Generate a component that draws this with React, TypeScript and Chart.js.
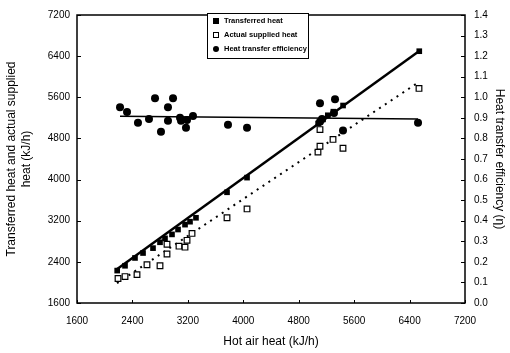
import React, { useEffect, useRef } from 'react';
import { Chart, registerables } from 'chart.js';
Chart.register(...registerables);

// Transferred heat (filled squares)
const hotAirTransferred = [2180, 2293, 2437, 2553, 2697, 2798, 2870, 2971, 3058, 3159, 3231, 3317, 3765, 4054, 5080, 5150, 5220, 5300, 5440, 6540];
const transferredHeat = [2230, 2324, 2476, 2572, 2667, 2781, 2857, 2934, 3029, 3124, 3181, 3257, 3753, 4038, 5090, 5170, 5250, 5320, 5440, 6496];

// Actual supplied heat (open squares)
const hotAirSupplied = [2192, 2293, 2466, 2610, 2798, 2899, 2899, 3072, 3159, 3188, 3260, 3765, 4054, 5078, 5107, 5107, 5295, 5439, 6536];
const suppliedHeat = [2076, 2114, 2152, 2343, 2324, 2553, 2743, 2705, 2686, 2819, 2953, 3257, 3429, 4534, 4648, 4972, 4781, 4610, 5772];

// Heat transfer efficiency (filled circles)
const hotAirEfficiency = [2221, 2322, 2480, 2639, 2726, 2812, 2913, 2913, 2986, 3087, 3101, 3173, 3188, 3274, 3779, 4054, 5107, 5324, 5309, 5136, 5107, 5439, 6522];
const efficiency = [0.952, 0.929, 0.876, 0.895, 0.995, 0.833, 0.952, 0.886, 0.995, 0.900, 0.886, 0.852, 0.890, 0.909, 0.867, 0.852, 0.971, 0.990, 0.924, 0.895, 0.881, 0.838, 0.876];

// Fitted lines
const fitTransferredX = [2180, 6540];
const fitTransferredY = [2260, 6500];
const fitSuppliedX = [2177, 6522];
const fitSuppliedY = [1985, 5886];
const fitEfficiencyX = [2221, 6522];
const fitEfficiencyY = [0.908, 0.895];

const xTicks = [1600, 2400, 3200, 4000, 4800, 5600, 6400, 7200];
const yTicks = [1600, 2400, 3200, 4000, 4800, 5600, 6400, 7200];

const labels = ['Transferred heat', 'Actual supplied heat', 'Heat transfer efficiency'];

const zip = (xs: number[], ys: number[]) => xs.map((x, i) => ({ x, y: ys[i] }));

const FONT = "'Liberation Sans', Arial, sans-serif";

const framePlugin = {
  id: 'frame',
  afterDatasetsDraw(chart: any) {
    const { ctx, chartArea: a, scales } = chart;
    ctx.save();
    ctx.strokeStyle = '#000';
    ctx.lineWidth = 1.5;
    ctx.strokeRect(a.left, a.top, a.right - a.left, a.bottom - a.top);
    ctx.lineWidth = 1;
    ctx.beginPath();
    scales.y.ticks.forEach((t: any) => {
      const p = Math.round(scales.y.getPixelForValue(t.value)) + 0.5;
      ctx.moveTo(a.left, p); ctx.lineTo(a.left + 4, p);
    });
    scales.y1.ticks.forEach((t: any) => {
      const p = Math.round(scales.y1.getPixelForValue(t.value)) + 0.5;
      ctx.moveTo(a.right, p); ctx.lineTo(a.right - 4, p);
    });
    scales.x.ticks.forEach((t: any) => {
      const p = Math.round(scales.x.getPixelForValue(t.value)) + 0.5;
      ctx.moveTo(p, a.bottom); ctx.lineTo(p, a.bottom - 3);
    });
    ctx.stroke();
    ctx.restore();
  },
};

const legendPlugin = {
  id: 'boxLegend',
  afterDraw(chart: any) {
    const { ctx } = chart;
    const x0 = 207, y0 = 13, w = 101, h = 45;
    ctx.save();
    ctx.fillStyle = '#fff';
    ctx.fillRect(x0, y0, w, h);
    ctx.strokeStyle = '#000';
    ctx.lineWidth = 1;
    ctx.strokeRect(x0 + 0.5, y0 + 0.5, w, h);
    ctx.font = `bold 7.5px ${FONT}`;
    ctx.textBaseline = 'middle';
    ctx.fillStyle = '#000';
    const rows = [21, 35, 49];
    rows.forEach((ry, i) => {
      const mx = 216;
      if (i === 0) {
        ctx.fillRect(mx - 3, ry - 3, 6, 6);
      } else if (i === 1) {
        ctx.fillStyle = '#fff';
        ctx.fillRect(mx - 3, ry - 3, 6, 6);
        ctx.strokeRect(mx - 3 + 0.5, ry - 3 + 0.5, 5, 5);
        ctx.fillStyle = '#000';
      } else {
        ctx.beginPath();
        ctx.arc(mx, ry, 3, 0, Math.PI * 2);
        ctx.fill();
      }
      ctx.fillText(labels[i], 224, ry);
    });
    ctx.restore();
  },
};

const plain = (v: any) => String(v);

export default function App() {
  const ref = useRef<HTMLCanvasElement>(null);
  useEffect(() => {
    document.body.style.margin = '0';
    if (!ref.current) return;
    Chart.defaults.font.family = FONT;
    Chart.defaults.color = '#000';
    const chart = new Chart(ref.current, {
      type: 'scatter',
      data: {
        datasets: [
          {
            label: labels[0], data: zip(hotAirTransferred, transferredHeat), yAxisID: 'y',
            pointStyle: 'rect', pointRadius: 4, backgroundColor: '#000', borderColor: '#000', borderWidth: 0, order: 0,
          },
          {
            label: labels[1], data: zip(hotAirSupplied, suppliedHeat), yAxisID: 'y',
            pointStyle: 'rect', pointRadius: 4, backgroundColor: '#fff', borderColor: '#000', borderWidth: 1.2, order: 0,
          },
          {
            label: labels[2], data: zip(hotAirEfficiency, efficiency), yAxisID: 'y1',
            pointStyle: 'circle', pointRadius: 4, backgroundColor: '#000', borderColor: '#000', borderWidth: 0, order: 0,
          },
          {
            label: 'fitT', data: zip(fitTransferredX, fitTransferredY), yAxisID: 'y', showLine: true,
            pointRadius: 0, borderColor: '#000', borderWidth: 2.5, order: 1,
          },
          {
            label: 'fitS', data: zip(fitSuppliedX, fitSuppliedY), yAxisID: 'y', showLine: true,
            pointRadius: 0, borderColor: '#000', borderWidth: 2, borderDash: [2, 5], order: 1,
          },
          {
            label: 'fitE', data: zip(fitEfficiencyX, fitEfficiencyY), yAxisID: 'y1', showLine: true,
            pointRadius: 0, borderColor: '#000', borderWidth: 1.5, order: 1,
          },
        ],
      },
      options: {
        responsive: false,
        animation: false,
        layout: { padding: { top: 9, left: 0, right: 0, bottom: 0 } },
        plugins: { legend: { display: false }, tooltip: { enabled: false } },
        scales: {
          x: {
            type: 'linear', min: 1600, max: 7200,
            afterBuildTicks: (s: any) => { s.ticks = xTicks.map((v) => ({ value: v })); },
            afterFit: (s: any) => { s.height = 50; },
            ticks: { font: { size: 10 }, padding: 12, maxRotation: 0, callback: plain },
            grid: { display: false, drawTicks: false },
            border: { display: false },
            title: { display: true, text: 'Hot air heat (kJ/h)', font: { size: 12 }, padding: { top: 0, bottom: 4 } },
          },
          y: {
            type: 'linear', position: 'left', min: 1600, max: 7200,
            afterBuildTicks: (s: any) => { s.ticks = yTicks.map((v) => ({ value: v })); },
            afterFit: (s: any) => { s.width = 77; },
            ticks: { font: { size: 10 }, padding: 7, callback: plain },
            grid: { display: false, drawTicks: false },
            border: { display: false },
            title: {
              display: true, text: ['Transferred heat and actual supplied', 'heat (kJ/h)'],
              font: { size: 12, lineHeight: 1.25 }, padding: { top: 4.5, bottom: 0 },
            },
          },
          y1: {
            type: 'linear', position: 'right', min: 0, max: 1.4,
            ticks: { font: { size: 10 }, padding: 9, stepSize: 0.1, callback: (v: any) => Number(v).toFixed(1) },
            afterFit: (s: any) => { s.width = 45; },
            grid: { display: false, drawTicks: false },
            border: { display: false },
            title: { display: true, text: 'Heat transfer efficiency (η)', font: { size: 12 }, padding: { top: 3, bottom: 0 } },
          },
        },
      },
      plugins: [framePlugin, legendPlugin],
    } as any);
    return () => chart.destroy();
  }, []);
  return (
    <div style={{ width: 510, height: 353 }}>
      <canvas ref={ref} width={510} height={353} />
    </div>
  );
}
